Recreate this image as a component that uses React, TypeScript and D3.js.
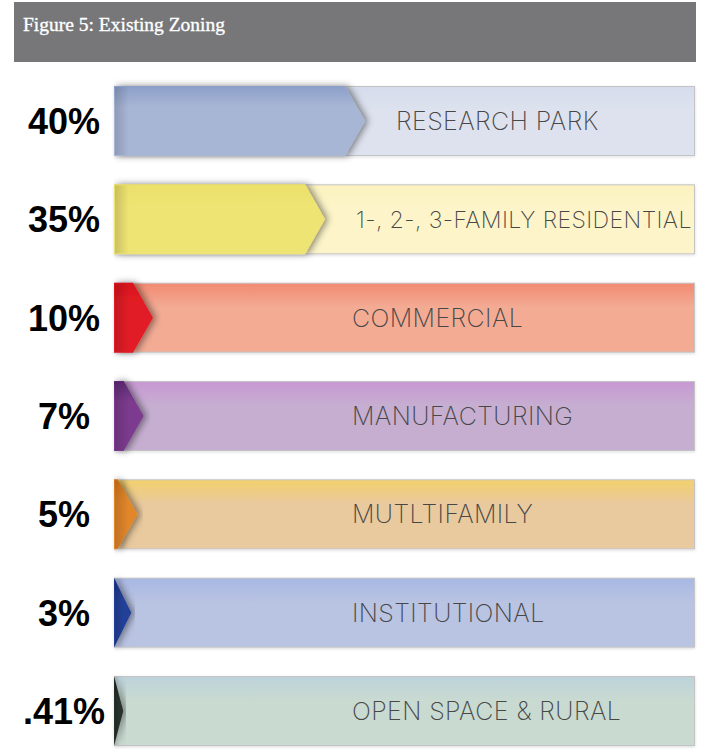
import React from "react";
import * as d3 from "d3";

const categories = [
  "RESEARCH PARK",
  "1-, 2-, 3-FAMILY RESIDENTIAL",
  "COMMERCIAL",
  "MANUFACTURING",
  "MUTLTIFAMILY",
  "INSTITUTIONAL",
  "OPEN SPACE & RURAL",
];
const shares = [40, 35, 10, 7, 5, 3, 0.41];
const shareLabels = ["40%", "35%", "10%", "7%", "5%", "3%", ".41%"];
const arrowColors = ["#a8b6d5", "#eee473", "#e21d25", "#7c3b8e", "#e2862a", "#233f97", "#27302a"];
const arrowTopColors = ["#8c9fc9", "#ebe06a", "#d8141c", "#5e2a75", "#d9761a", "#1a3288", "#1c241e"];
const barTopColors = ["#d5dcec", "#fbf2bf", "#f28a72", "#c898d3", "#f3d06c", "#a8b8e4", "#bcd3da"];
const barColors = ["#dde2ee", "#fdf5c9", "#f3ab94", "#c6aed1", "#e9c99e", "#b9c3e2", "#c9dad1"];
const title = "Figure 5: Existing Zoning";

const W = 706;
const H = 750;
const barLeft = 114;
const barRight = 695;
const labelSize = 25;

function fitText(el: SVGTextElement | null, avail: number) {
  if (!el) return;
  el.setAttribute("font-size", String(labelSize));
  const w = el.getComputedTextLength();
  if (w > avail) {
    el.setAttribute("font-size", String((labelSize * avail) / w));
  }
}

export default function App() {
  const y = d3
    .scaleBand<string>()
    .domain(categories)
    .range([86, 746])
    .paddingInner(0.288)
    .paddingOuter(0);
  // infographic arrow length (not proportional in the original)
  const len = d3.scaleLinear().domain([0, 10, 35, 40]).range([8, 39, 211, 251]);
  const bw = y.bandwidth();

  return (
    <div style={{ position: "absolute", left: 0, top: 0 }}>
      <svg width={W} height={H} style={{ display: "block" }}>
        <defs>
          <filter id="shadow" x="-20%" y="-20%" width="140%" height="140%">
            <feDropShadow dx="3" dy="0" stdDeviation="3.5" floodColor="#000" floodOpacity="0.45" />
          </filter>
          <filter id="barshadow" x="-5%" y="-20%" width="110%" height="140%">
            <feDropShadow dx="0" dy="1" stdDeviation="1.5" floodColor="#000" floodOpacity="0.15" />
          </filter>
          {categories.map((c, i) => (
            <linearGradient key={"bg" + i} id={"bg" + i} x1="0" y1="0" x2="0" y2="1">
              <stop offset="0" stopColor={barTopColors[i]} />
              <stop offset="0.35" stopColor={barColors[i]} />
              <stop offset="1" stopColor={barColors[i]} />
            </linearGradient>
          ))}
          {categories.map((c, i) => (
            <linearGradient key={"ar" + i} id={"ar" + i} x1="0" y1="0" x2="0" y2="1">
              <stop offset="0" stopColor={arrowTopColors[i]} />
              <stop offset="0.3" stopColor={arrowColors[i]} />
              <stop offset="1" stopColor={arrowColors[i]} />
            </linearGradient>
          ))}
          <linearGradient id="leftshade" x1="0" y1="0" x2="1" y2="0">
            <stop offset="0" stopColor="#000" stopOpacity="0.15" />
            <stop offset="1" stopColor="#000" stopOpacity="0" />
          </linearGradient>
          <clipPath id="barclip">
            <rect x={barLeft} y={0} width={barRight - barLeft} height={H} />
          </clipPath>
        </defs>

        <rect x={14} y={2} width={682} height={60} fill="#77777a" />
        <text
          x={23}
          y={31}
          fill="#ffffff"
          stroke="#ffffff"
          strokeWidth={0.35}
          fontFamily="'Liberation Serif', 'DejaVu Serif', serif"
          fontSize={19.5}
        >
          {title}
        </text>

        {categories.map((c, i) => {
          const top = y(c)!;
          const L = len(shares[i]);
          const depth = Math.min(20, L);
          const body = barLeft + L - depth;
          const tip = barLeft + L;
          const path = d3.path();
          path.moveTo(barLeft, top);
          path.lineTo(body, top);
          path.lineTo(tip, top + bw / 2);
          path.lineTo(body, top + bw);
          path.lineTo(barLeft, top + bw);
          path.closePath();
          const labelX = Math.max(352, tip + 31);
          return (
            <g key={c}>
              <rect
                x={barLeft + 0.5}
                y={top + 0.5}
                width={barRight - barLeft - 1}
                height={bw - 1}
                fill={`url(#bg${i})`}
                stroke="#c4c4c6"
                strokeWidth={1}
                filter="url(#barshadow)"
              />
              <g clipPath="url(#barclip)">
                <path d={path.toString()} fill={`url(#ar${i})`} filter="url(#shadow)" />
                <rect
                  x={barLeft + 1}
                  y={top + 1}
                  width={Math.max(0, Math.min(14, L - depth / 2))}
                  height={bw - 2}
                  fill="url(#leftshade)"
                />
              </g>
              <text
                ref={(el) => fitText(el, barRight - labelX - 4)}
                x={labelX}
                y={top + bw / 2}
                dy="0.36em"
                fill="#474747"
                fontFamily="Inter, 'Noto Sans', sans-serif"
                fontWeight={200}
                fontSize={labelSize}
                style={{ letterSpacing: "0.4px" }}
              >
                {c}
              </text>
              <text
                x={64}
                y={top + bw / 2}
                dy="0.36em"
                textAnchor="middle"
                fill="#000"
                fontFamily="'Liberation Sans', Arial, sans-serif"
                fontWeight={700}
                fontSize={36}
              >
                {shareLabels[i]}
              </text>
            </g>
          );
        })}
      </svg>
    </div>
  );
}
